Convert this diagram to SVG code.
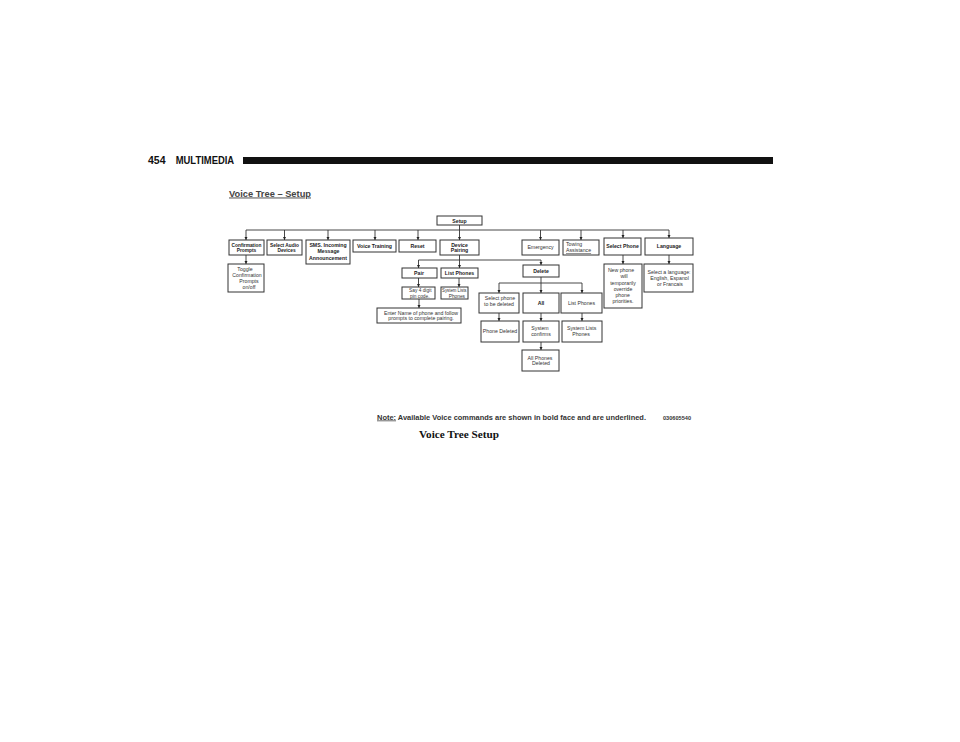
<svg xmlns="http://www.w3.org/2000/svg" width="960" height="742" viewBox="0 0 960 742">
<defs>
<marker id="ah" viewBox="0 0 6 6" refX="6" refY="3" markerWidth="3.2" markerHeight="3.2" orient="auto" markerUnits="userSpaceOnUse">
<path d="M0,0 L6,3 L0,6 Z" fill="#222"/>
</marker>
<style>
.box{fill:#fff;stroke:#333;stroke-width:1}
.t{font-family:"Liberation Sans",Arial,sans-serif;font-size:5.2px;fill:#333;text-anchor:middle}
.s{font-size:4.8px}
.b{font-weight:bold;fill:#222}
.ln{fill:none;stroke:#333;stroke-width:0.9}
.ar{fill:none;stroke:#333;stroke-width:0.9;marker-end:url(#ah)}
</style>
</defs>
<rect width="960" height="742" fill="#fff"/>

<!-- header -->
<text x="148" y="164" font-family="'Liberation Sans',Arial,sans-serif" font-size="10" font-weight="bold" fill="#111" textLength="17.5" lengthAdjust="spacingAndGlyphs">454</text>
<text x="175.7" y="164" font-family="'Liberation Sans',Arial,sans-serif" font-size="10" font-weight="bold" fill="#111" textLength="58.5" lengthAdjust="spacingAndGlyphs">MULTIMEDIA</text>
<rect x="243" y="157" width="530" height="7" fill="#111"/>
<text x="229" y="196.5" font-family="'Liberation Sans',Arial,sans-serif" font-size="9.2" font-weight="bold" fill="#444" text-decoration="underline" textLength="82" lengthAdjust="spacingAndGlyphs">Voice Tree – Setup</text>

<!-- connectors -->
<g id="connectors">
<path class="ln" d="M459.5,225 V230 M246,230 H669"/>
<path class="ar" d="M246,230 V240"/>
<path class="ar" d="M284.5,230 V240"/>
<path class="ar" d="M328,230 V240"/>
<path class="ar" d="M375,230 V240"/>
<path class="ar" d="M418,230 V240"/>
<path class="ar" d="M459.5,230 V240"/>
<path class="ar" d="M540.5,230 V240"/>
<path class="ar" d="M581,230 V240"/>
<path class="ar" d="M623,230 V238"/>
<path class="ar" d="M669,230 V238"/>
<path class="ar" d="M246,255 V264"/>
<path class="ln" d="M459.5,255 V260 M418.5,260 H541"/>
<path class="ar" d="M418.5,260 V268"/>
<path class="ar" d="M459.5,260 V268"/>
<path class="ar" d="M541,260 V265"/>
<path class="ar" d="M418.5,278 V287"/>
<path class="ar" d="M419,299 V308"/>
<path class="ar" d="M459,278 V287"/>
<path class="ln" d="M541,277 V283 M499,283 H582"/>
<path class="ar" d="M499,283 V293"/>
<path class="ar" d="M541,283 V293"/>
<path class="ar" d="M582,283 V293"/>
<path class="ar" d="M499,313 V321"/>
<path class="ar" d="M541,313 V321"/>
<path class="ar" d="M582,313 V321"/>
<path class="ar" d="M541,342 V350"/>
<path class="ar" d="M623,255 V264"/>
<path class="ar" d="M669,255 V264"/>
</g>

<g id="setup"><rect class="box" x="437" y="216" width="45" height="9"/><text class="t b" x="459.5" y="222.6">Setup</text></g>

<g id="confirmation-prompts"><rect class="box" x="229" y="240" width="35" height="15"/><text class="t b s" x="246.5" y="246.5">Confirmation</text><text class="t b s" x="246.5" y="252.3">Prompts</text></g>
<g id="select-audio"><rect class="box" x="267" y="240" width="35" height="15"/><text class="t b s" x="284.5" y="246.5">Select Audio</text><text class="t b s" x="286.5" y="252.3">Devices</text></g>
<g id="sms"><rect class="box" x="306" y="240" width="44" height="24"/><text class="t b" x="328" y="247">SMS. Incoming</text><text class="t b" x="328.5" y="253.4">Message</text><text class="t b" x="328" y="259.8">Announcement</text></g>
<g id="voice-training"><rect class="box" x="353" y="240" width="43" height="12"/><text class="t b" x="374.5" y="247.8">Voice Training</text></g>
<g id="reset"><rect class="box" x="399" y="240" width="37" height="12"/><text class="t b" x="417.5" y="247.8">Reset</text></g>
<g id="device-pairing"><rect class="box" x="440" y="240" width="39" height="15"/><text class="t b" x="459.5" y="246.5">Device</text><text class="t b" x="459.5" y="252.3">Pairing</text></g>
<g id="emergency"><rect class="box" x="522" y="240" width="37" height="15"/><text class="t" x="540.5" y="249.4">Emergency</text></g>
<g id="towing"><rect class="box" x="563" y="240" width="36" height="15"/><text class="t" x="566" y="246.3" style="text-anchor:start">Towing</text><text class="t" x="566" y="252.3" style="text-anchor:start;text-decoration:underline">Assistance</text></g>
<g id="select-phone"><rect class="box" x="604" y="238" width="37" height="17"/><text class="t b" x="622.5" y="248.4">Select Phone</text></g>
<g id="language"><rect class="box" x="645" y="238" width="48" height="17"/><text class="t b" x="669" y="248.4">Language</text></g>

<g id="toggle"><rect class="box" x="228" y="264" width="36" height="28"/><text class="t" x="245" y="271">Toggle</text><text class="t" x="247" y="276.6">Confirmation</text><text class="t" x="249" y="282.8">Prompts</text><text class="t" x="249" y="288.8">on/off</text></g>
<g id="pair"><rect class="box" x="402" y="268" width="35" height="10"/><text class="t b" x="419" y="274.9">Pair</text></g>
<g id="list-phones"><rect class="box" x="441" y="268" width="37" height="10"/><text class="t b" x="459.5" y="274.9">List Phones</text></g>
<g id="delete"><rect class="box" x="523" y="265" width="36" height="12"/><text class="t b" x="541" y="272.9">Delete</text></g>
<g id="new-phone"><rect class="box" x="604" y="264" width="38" height="44"/><text class="t" x="621" y="271.8">New phone</text><text class="t" x="624" y="278">will</text><text class="t" x="623" y="284.8">temporarily</text><text class="t" x="623" y="291">override</text><text class="t" x="622.7" y="297.4">phone</text><text class="t" x="623" y="303.4">priorities.</text></g>
<g id="select-language"><rect class="box" x="644" y="264" width="49" height="28"/><text class="t" x="669" y="274.4">Select a language:</text><text class="t" x="669.5" y="279.8">English, Espanol</text><text class="t" x="670" y="286">or Francais</text></g>

<g id="say-pin"><rect class="box" x="402" y="287" width="33" height="12"/><text class="t s" x="431.5" y="292.3" style="text-anchor:end">Say 4 digit</text><text class="t s" x="429.5" y="297.6" style="text-anchor:end">pin code.</text></g>
<g id="system-lists-1"><rect class="box" x="441" y="287" width="27" height="12"/><text class="t s" x="466.5" y="292.3" style="text-anchor:end" textLength="24.5" lengthAdjust="spacingAndGlyphs">System Lists</text><text class="t s" x="465" y="297.6" style="text-anchor:end">Phones</text></g>
<g id="enter-name"><rect class="box" x="377" y="308" width="84" height="15"/><text class="t" x="421" y="314.6">Enter Name of phone and follow</text><text class="t" x="421" y="320.4">prompts to complete pairing.</text></g>

<g id="select-phone-delete"><rect class="box" x="479" y="293" width="40" height="20"/><text class="t" x="500" y="300.3">Select phone</text><text class="t" x="499" y="306.3">to be deleted</text></g>
<g id="all"><rect class="box" x="523" y="293" width="36" height="20"/><text class="t b" x="541" y="305">All</text></g>
<g id="list-phones-2"><rect class="box" x="561" y="293" width="41" height="20"/><text class="t" x="581.5" y="305">List Phones</text></g>
<g id="phone-deleted"><rect class="box" x="481" y="321" width="38" height="21"/><text class="t" x="500" y="333">Phone Deleted</text></g>
<g id="system-confirms"><rect class="box" x="523" y="321" width="36" height="21"/><text class="t" x="540" y="330.3">System</text><text class="t" x="541" y="336.3">confirms</text></g>
<g id="system-lists-2"><rect class="box" x="562" y="321" width="40" height="21"/><text class="t" x="581.7" y="330.3">System Lists</text><text class="t" x="581" y="336.3">Phones</text></g>
<g id="all-phones-deleted"><rect class="box" x="522" y="350" width="37" height="21"/><text class="t" x="540" y="359.7">All Phones</text><text class="t" x="541" y="365.3">Deleted</text></g>

<!-- footer -->
<text x="377" y="419.5" font-family="'Liberation Sans',Arial,sans-serif" font-size="7.2" font-weight="bold" fill="#333" textLength="269" lengthAdjust="spacingAndGlyphs"><tspan text-decoration="underline">Note:</tspan> Available Voice commands are shown in bold face and are underlined.</text>
<text x="663" y="419.5" font-family="'Liberation Sans',Arial,sans-serif" font-size="5.4" font-weight="bold" fill="#333" textLength="28" lengthAdjust="spacingAndGlyphs">030605540</text>
<text x="419" y="437.5" font-family="'Liberation Serif','Times New Roman',serif" font-size="11" font-weight="bold" fill="#111" textLength="80" lengthAdjust="spacingAndGlyphs">Voice Tree Setup</text>
</svg>
